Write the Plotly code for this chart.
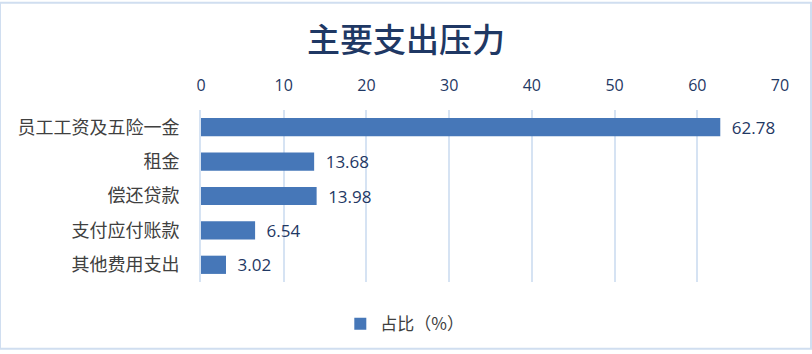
import plotly.graph_objects as go

categories = ["员工工资及五险一金", "租金", "偿还贷款", "支付应付账款", "其他费用支出"]
values = [62.78, 13.68, 13.98, 6.54, 3.02]
series_name = "占比（%）"
title_text = "主要支出压力"
tick_vals = [0, 10, 20, 30, 40, 50, 60, 70]

fig = go.Figure()
fig.add_trace(go.Bar(
    y=categories, x=values, orientation="h", name=series_name,
    marker=dict(color="#4677b8", line=dict(width=0)),
    text=values, texttemplate="\u2002%{x:.2f}", textposition="outside",
    constraintext="none",
    textfont=dict(family="Open Sans, Noto Sans CJK SC", size=17, color="#1f3864"),
    cliponaxis=False, showlegend=True,
))

fig.update_layout(
    width=812, height=354,
    margin=dict(l=201, r=32, t=110, b=69),
    paper_bgcolor="white", plot_bgcolor="white",
    bargap=0.47,
    title=dict(text=title_text, x=0.5, xanchor="center", y=0.885, yanchor="middle",
               font=dict(family="Noto Sans CJK SC", size=33, color="#1f3864", weight=500)),
    xaxis=dict(side="top", range=[0, 70], tickvals=tick_vals, showgrid=True,
               gridcolor="#d6e3f3", gridwidth=2, zeroline=False, showline=False,
               tickfont=dict(family="Open Sans", size=16, color="#1f3864"),
               ticks="", ticklabelstandoff=15),
    yaxis=dict(autorange="reversed", showgrid=False, zeroline=False, showline=True,
               linecolor="#d6e3f3", linewidth=2,
               tickfont=dict(family="Noto Sans CJK SC", size=18, color="#404040"),
               ticks="", ticklabelstandoff=16),
    legend=dict(orientation="h", x=0.352, xanchor="center", y=-0.14, yanchor="top",
                font=dict(family="Noto Sans CJK SC", size=17, color="#404040")),
    shapes=[dict(type="rect", xref="paper", yref="paper", x0=-201/579, x1=1+31/579,
                 y0=-68/175, y1=1+109/175, line=dict(color="#d0def0", width=2),
                 fillcolor="rgba(0,0,0,0)", layer="below")],
)

fig.write_html("out.html")
